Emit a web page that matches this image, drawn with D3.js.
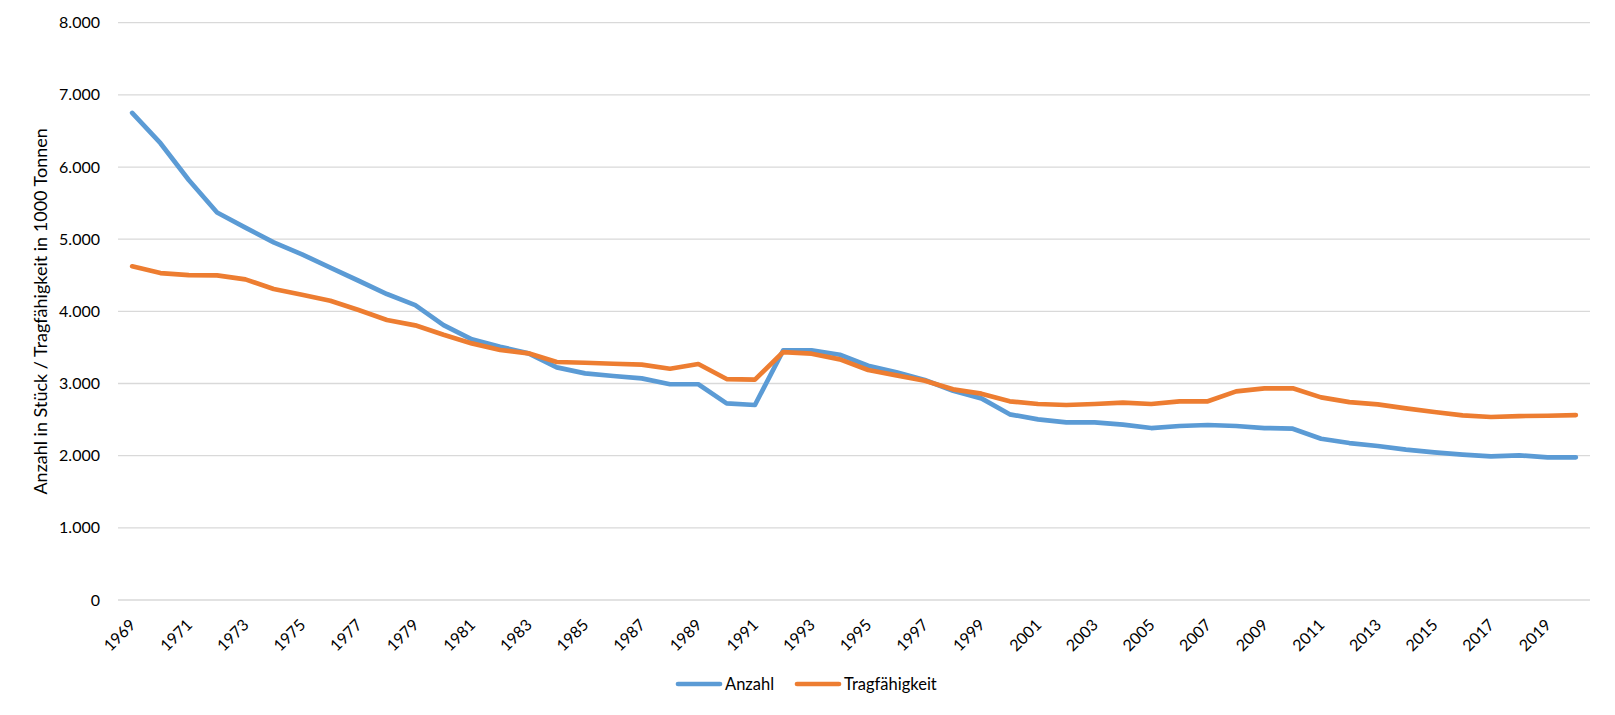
<!DOCTYPE html>
<html>
<head>
<meta charset="utf-8">
<script src="https://cdn.jsdelivr.net/npm/d3@7"></script>
<style>
  html, body { margin: 0; padding: 0; background: #fff; }
  svg { display: block; font-family: Lato, "Open Sans", sans-serif; }
</style>
</head>
<body>
<svg id="chart" width="1615" height="715"></svg>
<script>
const years = d3.range(1969, 2021);
const anzahl = [
  6750, 6330, 5820, 5370, 5160, 4956, 4790, 4605, 4424, 4240,
  4087, 3810, 3612, 3510, 3418, 3224, 3141, 3104, 3071, 2990,
  2990, 2725, 2702, 3460, 3460, 3399, 3247, 3155, 3048, 2900,
  2794, 2573, 2503, 2462, 2462, 2430, 2383, 2411, 2425, 2411,
  2383, 2374, 2235, 2175, 2134, 2083, 2046, 2015, 1990, 2005,
  1977, 1977
];
const tragfaehigkeit = [
  4624, 4531, 4503, 4499, 4443, 4309, 4231, 4147, 4018, 3880,
  3806, 3676, 3556, 3464, 3418, 3298, 3288, 3274, 3261, 3205,
  3270, 3062, 3053, 3436, 3413, 3335, 3187, 3113, 3039, 2919,
  2859, 2753, 2716, 2702, 2716, 2734, 2716, 2753, 2753, 2891,
  2933, 2933, 2808, 2743, 2711, 2656, 2605, 2559, 2536, 2549,
  2553, 2563
];
const yTicks = [0, 1000, 2000, 3000, 4000, 5000, 6000, 7000, 8000];
const xTickYears = years.filter(y => (y - 1969) % 2 === 0);
const seriesNames = ["Anzahl", "Tragfähigkeit"];
const seriesColors = ["#5B9BD5", "#ED7D31"];
const yTitle = "Anzahl in Stück / Tragfähigkeit in 1000 Tonnen";

const svg = d3.select("#chart");
const mLeft = 118, mRight = 1590, mTop = 22.7, mBottom = 600;

const x = d3.scalePoint().domain(years).range([mLeft, mRight]).padding(0.5);
const y = d3.scaleLinear().domain([0, 8000]).range([mBottom, mTop]);

const de = d3.formatLocale({ decimal: ",", thousands: ".", grouping: [3], currency: ["", " €"] });
const fmt = de.format(",d");

// gridlines
svg.append("g").selectAll("line").data(yTicks).join("line")
  .attr("x1", mLeft).attr("x2", mRight)
  .attr("y1", d => y(d)).attr("y2", d => y(d))
  .attr("stroke", "#d9d9d9").attr("stroke-width", 1.3);

// y axis labels
const yAxis = d3.axisLeft(y).tickValues(yTicks).tickFormat(fmt).tickSize(0).tickPadding(0);
const gy = svg.append("g").attr("transform", `translate(100,0)`).call(yAxis);
gy.select(".domain").remove();
gy.selectAll("text").attr("font-size", 16).attr("fill", "#000").attr("font-family", "Lato, sans-serif");

// x axis labels
const xAxis = d3.axisBottom(x).tickValues(xTickYears).tickSize(0).tickPadding(0);
const gx = svg.append("g").attr("transform", `translate(0,${mBottom})`).call(xAxis);
gx.select(".domain").remove();
gx.selectAll("text")
  .attr("font-size", 16).attr("fill", "#000").attr("font-family", "Lato, sans-serif")
  .attr("text-anchor", "end").attr("dy", null).attr("y", 0)
  .attr("transform", "translate(4,26) rotate(-45)");

// y title
svg.append("text")
  .attr("transform", `translate(47,${(mTop + mBottom) / 2}) rotate(-90)`)
  .attr("text-anchor", "middle")
  .attr("font-size", 18).attr("fill", "#000")
  .text(yTitle);

// lines
const series = [anzahl, tragfaehigkeit];
const line = d3.line().x((d, i) => x(years[i])).y(d => y(d));
svg.append("g").selectAll("path").data(series).join("path")
  .attr("d", d => line(d))
  .attr("fill", "none")
  .attr("stroke", (d, i) => seriesColors[i])
  .attr("stroke-width", 4.7)
  .attr("stroke-linejoin", "round")
  .attr("stroke-linecap", "round");

// legend
const legendX = [678, 797];
const lg = svg.append("g");
seriesNames.forEach((name, i) => {
  lg.append("line")
    .attr("x1", legendX[i]).attr("x2", legendX[i] + 42)
    .attr("y1", 684).attr("y2", 684)
    .attr("stroke", seriesColors[i]).attr("stroke-width", 4.7)
    .attr("stroke-linecap", "round");
  lg.append("text")
    .attr("x", legendX[i] + 47).attr("y", 690)
    .attr("font-size", 16.5).attr("fill", "#000")
    .text(name);
});
</script>
</body>
</html>
